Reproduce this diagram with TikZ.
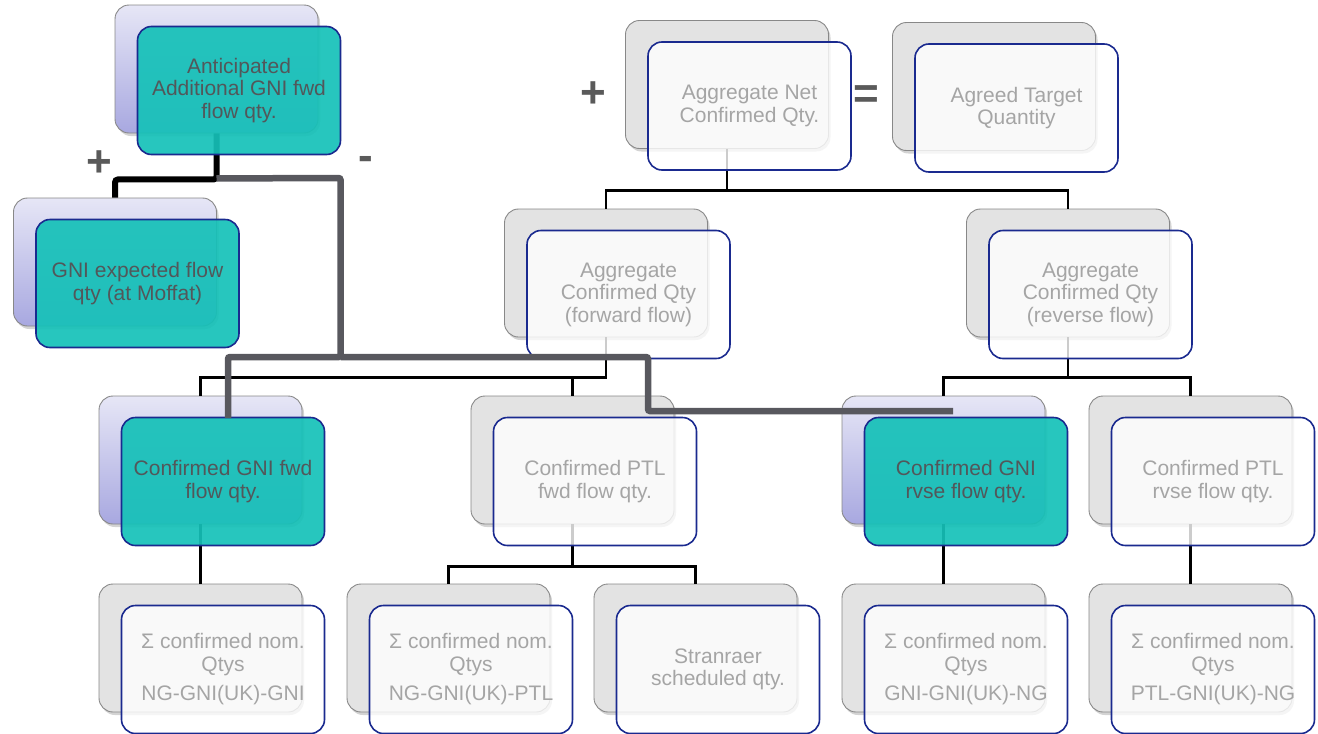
\documentclass[tikz,border=0pt]{standalone}
\usepackage{fontspec}
\setmainfont{Liberation Sans}
\usetikzlibrary{shadows,calc}
\definecolor{backgray}{HTML}{E3E3E3}
\definecolor{backedge}{HTML}{888888}
\definecolor{lavtop}{HTML}{E6E6F6}
\definecolor{lavbot}{HTML}{A8A8E0}
\definecolor{frontedge}{HTML}{1A2A8F}
\definecolor{tealfill}{HTML}{15C1B8}
\definecolor{lighttext}{HTML}{A5A5A5}
\definecolor{darktext}{HTML}{52575A}
\definecolor{minusgray}{HTML}{58585E}
\definecolor{signgray}{HTML}{5A5A5A}
\tikzset{
  boxsize/.style={minimum width=203pt, minimum height=128pt, inner sep=0pt, rounded corners=14pt},
  backbox/.style={boxsize, draw=backedge, line width=0.9pt, fill=backgray,
    drop shadow={opacity=0.35, shadow xshift=2pt, shadow yshift=-3pt}},
  lavbox/.style={boxsize, draw=backedge, line width=0.9pt, top color=lavtop, bottom color=lavbot,
    drop shadow={opacity=0.35, shadow xshift=2pt, shadow yshift=-3pt}},
  frontbox/.style={boxsize, draw=frontedge, line width=1.6pt, fill=white, fill opacity=0.8,
    text opacity=1, text=lighttext, align=center, font=\fontsize{21}{22.5}\selectfont},
  tealbox/.style={frontbox, fill=tealfill, fill opacity=0.92, text=darktext},
  thinlink/.style={draw=black, line width=2.4pt},
  pluslink/.style={draw=black, line width=6pt, rounded corners=3pt},
  minuslink/.style={draw=minusgray, line width=6.5pt, rounded corners=2pt},
  sign/.style={text=signgray, font=\fontsize{44}{44}\bfseries\selectfont, inner sep=0pt}
}
\begin{document}
\begin{tikzpicture}[x=1pt,y=-1pt]
\useasboundingbox (0,0) rectangle (1318,734);

% back boxes
\node[lavbox]  (b1)  at (216.5,69)  {};
\node[lavbox]  (b2)  at (115,262)   {};
\node[backbox] (b3)  at (727,84.5)  {};
\node[backbox] (b4)  at (994,86.5)  {};
\node[backbox] (b5)  at (606,273)   {};
\node[backbox] (b6)  at (1068,273)  {};
\node[lavbox]  (b7)  at (200.5,460) {};
\node[backbox] (b8)  at (572.5,460) {};
\node[lavbox]  (b9)  at (943.5,460) {};
\node[backbox] (b10) at (1190.5,460) {};
\node[backbox] (b11) at (200.5,648) {};
\node[backbox] (b12) at (448.5,648) {};
\node[backbox] (b13) at (695.5,648) {};
\node[backbox] (b14) at (943.5,648) {};
\node[backbox] (b15) at (1190.5,648) {};

% thin connectors
\draw[thinlink] (b3.south) -- ++(0,41.5) -| (b5.north);
\draw[thinlink] (b3.south) -- ++(0,41.5) -| (b6.north);
\draw[thinlink] (b5.south) -- ++(0,40) -| (b7.north);
\draw[thinlink] (b5.south) -- ++(0,40) -| (b8.north);
\draw[thinlink] (b6.south) -- ++(0,40) -| (b9.north);
\draw[thinlink] (b6.south) -- ++(0,40) -| (b10.north);
\draw[thinlink] (b7.south) -- (b11.north);
\draw[thinlink] (b8.south) -- ++(0,42) -| (b12.north);
\draw[thinlink] (b8.south) -- ++(0,42) -| (b13.north);
\draw[thinlink] (b9.south) -- (b14.north);
\draw[thinlink] (b10.south) -- (b15.north);

% plus connector
\draw[pluslink] (b1.south) -- ++(0,46) -| (b2.north);

% front boxes
\node[tealbox]  (f1)  at ($(b1)+(22.5,21.5)$) {Anticipated\\Additional GNI fwd\\flow qty.};
\node[tealbox]  (f2)  at ($(b2)+(22.5,21.5)$) {GNI expected flow\\qty (at Moffat)};
\node[frontbox] (f3)  at ($(b3)+(22.5,21.5)$) {Aggregate Net\\Confirmed Qty.};
\node[frontbox] (f4)  at ($(b4)+(22.5,21.5)$) {Agreed Target\\Quantity};
\node[frontbox] (f5)  at ($(b5)+(22.5,21.5)$) {Aggregate\\Confirmed Qty\\(forward flow)};
\node[frontbox] (f6)  at ($(b6)+(22.5,21.5)$) {Aggregate\\Confirmed Qty\\(reverse flow)};
\node[tealbox]  (f7)  at ($(b7)+(22.5,21.5)$) {Confirmed GNI fwd\\flow qty.};
\node[frontbox] (f8)  at ($(b8)+(22.5,21.5)$) {Confirmed PTL\\fwd flow qty.};
\node[tealbox]  (f9)  at ($(b9)+(22.5,21.5)$) {Confirmed GNI\\rvse flow qty.};
\node[frontbox] (f10) at ($(b10)+(22.5,21.5)$) {Confirmed PTL\\rvse flow qty.};
\node[frontbox] (f11) at ($(b11)+(22.5,21.5)$) {Σ confirmed nom.\\Qtys\\[7pt]NG-GNI(UK)-GNI};
\node[frontbox] (f12) at ($(b12)+(22.5,21.5)$) {Σ confirmed nom.\\Qtys\\[7pt]NG-GNI(UK)-PTL};
\node[frontbox] (f13) at ($(b13)+(22.5,21.5)$) {Stranraer\\scheduled qty.};
\node[frontbox] (f14) at ($(b14)+(22.5,21.5)$) {Σ confirmed nom.\\Qtys\\[7pt]GNI-GNI(UK)-NG};
\node[frontbox] (f15) at ($(b15)+(22.5,21.5)$) {Σ confirmed nom.\\Qtys\\[7pt]PTL-GNI(UK)-NG};

% minus connector
\coordinate (m1) at (228,418);
\coordinate (m2) at (953,411);
\draw[minuslink] ($(b1.south)+(0,45)$) -- (340.5,178) -- (340.5,357) -- (228,357) -- (m1);
\draw[minuslink] (340.5,357) -- (648,357) -- (648,411) -- (m2);

% signs
\node[sign] (s1) at (99,164) {+};
\node[sign] (s2) at (366,163) {-};
\node[sign] (s3) at (593,95) {+};
\node[sign] (s4) at (866,97) {=};
\end{tikzpicture}
\end{document}
